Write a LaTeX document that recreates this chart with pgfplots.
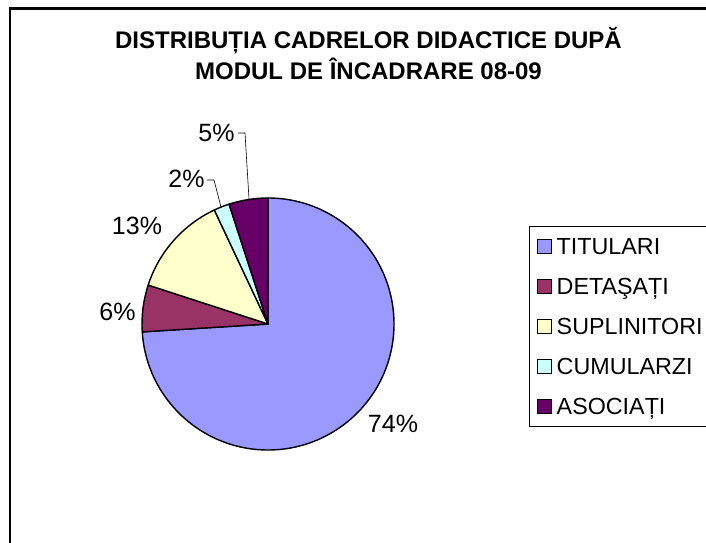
\documentclass[border=0pt]{standalone}
\usepackage{pgfplots}
\pgfplotsset{compat=1.18}
\usepackage{pgfplotstable}
\usepackage{fontspec}
\setmainfont{Liberation Sans}
\definecolor{cTit}{HTML}{9999FF}
\definecolor{cDet}{HTML}{993366}
\definecolor{cSup}{HTML}{FFFFCC}
\definecolor{cCum}{HTML}{CCFFFF}
\definecolor{cAso}{HTML}{660066}
\pgfplotstableread{
value color
74 cTit
6  cDet
13 cSup
2  cCum
5  cAso
}\piedata
\begin{document}
\begin{tikzpicture}
\begin{axis}[
  at={(0,0)}, anchor=south west,
  scale only axis, width=706pt, height=542pt,
  xmin=0, xmax=706, ymin=0, ymax=542,
  hide axis, clip=false,
  legend cell align=left,
  legend image code/.code={\draw[#1,line width=0.8pt] (0pt,-7pt) rectangle (14pt,7pt);},
  legend style={at={(axis cs:528.5,316)}, anchor=north west, draw=black, line width=0.8pt,
    font=\fontsize{23.3}{28}\selectfont, inner xsep=8pt, inner ysep=12pt,
    row sep=24pt,
    nodes={inner sep=0pt, text height=16pt, text depth=0pt},
    /tikz/every odd column/.append style={column sep=5pt}},
]
\def\cum{0}
\pgfplotsforeachungrouped \i in {0,...,4}{%
  \pgfplotstablegetelem{\i}{value}\of{\piedata}\let\val\pgfplotsretval
  \pgfplotstablegetelem{\i}{color}\of{\piedata}\let\clr\pgfplotsretval
  \pgfmathsetmacro\angA{90-3.6*\cum}%
  \pgfmathsetmacro\angB{90-3.6*(\cum+\val)}%
  \edef\temp{\noexpand\filldraw[fill=\clr, draw=black, line width=1.4pt, line join=round]
    (axis cs:268,218) -- ++(\angA:126pt) arc[start angle=\angA, end angle=\angB, radius=126pt] -- cycle;}%
  \temp
  \pgfmathsetmacro\cum{\cum+\val}%
}
\addlegendimage{fill=cTit, draw=black}\addlegendentry{TITULARI}
\addlegendimage{fill=cDet, draw=black}\addlegendentry{DETAŞAȚI}
\addlegendimage{fill=cSup, draw=black}\addlegendentry{SUPLINITORI}
\addlegendimage{fill=cCum, draw=black}\addlegendentry{CUMULARZI}
\addlegendimage{fill=cAso, draw=black}\addlegendentry{ASOCIAȚI}
% labels
\begin{scope}[every node/.style={font=\fontsize{25}{28}\selectfont, inner sep=0pt}]
\node at (axis cs:393,118) {74\%};
\node at (axis cs:117.5,230) {6\%};
\node at (axis cs:137,316) {13\%};
\node at (axis cs:186.5,363.5) {2\%};
\node at (axis cs:216.5,409) {5\%};
\end{scope}
\draw[line width=0.6pt] (axis cs:238,409) -- (axis cs:245,409) -- (axis cs:249,343);
\draw[line width=0.6pt] (axis cs:207,362) -- (axis cs:214,362) -- (axis cs:221,335);
% title
\node[anchor=base, font=\fontsize{24}{31}\bfseries\selectfont, inner sep=0pt] at (axis cs:368.5,493.7) {DISTRIBUȚIA CADRELOR DIDACTICE DUPĂ};
\node[anchor=base, font=\fontsize{24}{31}\bfseries\selectfont, inner sep=0pt] at (axis cs:368.5,462.7) {MODUL DE ÎNCADRARE 08-09};
% frame
\draw[line width=2.2pt] (axis cs:10,-30) -- (axis cs:10,533.5) -- (axis cs:740,533.5);
\end{axis}
\pgfresetboundingbox
\useasboundingbox (0,0) rectangle (706pt,542pt);
\end{tikzpicture}
\end{document}
